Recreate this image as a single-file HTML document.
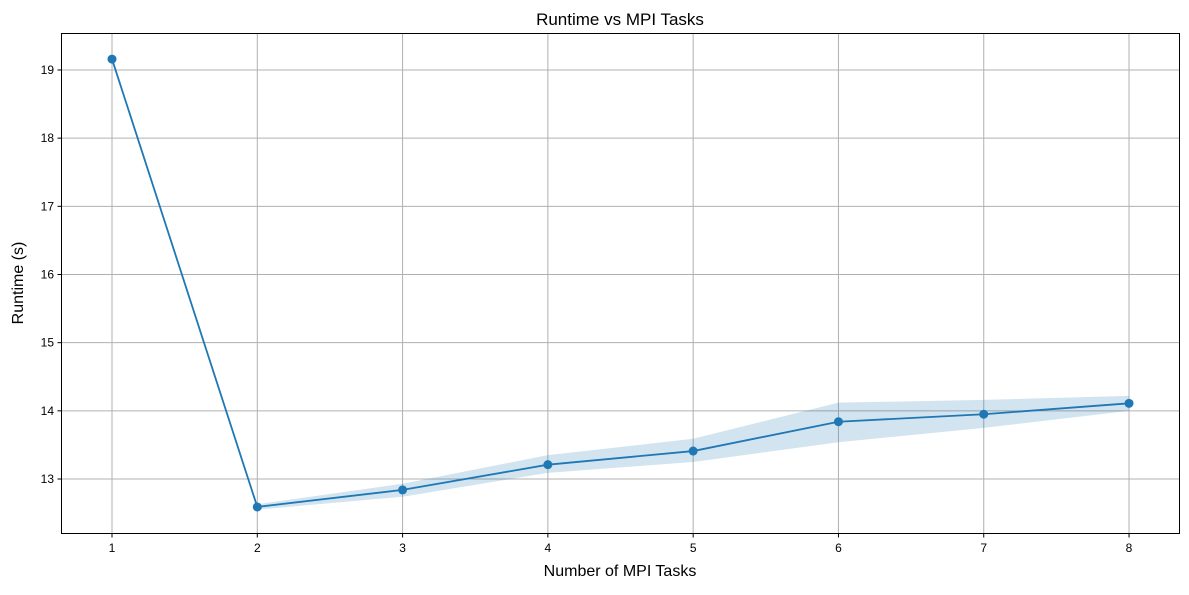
<!DOCTYPE html>
<html><head><meta charset="utf-8"><style>
body{margin:0;background:#fff;font-family:"Liberation Sans","DejaVu Sans",sans-serif;}
</style></head><body>
<svg id="chart" width="1189" height="590" xmlns="http://www.w3.org/2000/svg">
<rect width="1189" height="590" fill="#fff"/>
<g id="grid"></g>
<g id="band"></g>
<g id="series"></g>
<rect x="61.5" y="33.5" width="1118" height="500" fill="none" stroke="#000" stroke-width="1"/>
<g id="ticks"></g>
<text x="620" y="25" text-anchor="middle" font-size="17">Runtime vs MPI Tasks</text>
<text x="620" y="576" text-anchor="middle" font-size="16">Number of MPI Tasks</text>
<text transform="translate(23,283) rotate(-90)" text-anchor="middle" font-size="16">Runtime (s)</text>
</svg>
<script>
const tasks=[1,2,3,4,5,6,7,8];
const runtime=[19.16,12.59,12.84,13.21,13.41,13.84,13.95,14.11];
const upper=[19.17,12.63,12.93,13.35,13.59,14.12,14.16,14.22];
const lower=[19.15,12.55,12.74,13.09,13.25,13.54,13.75,14.0];
const yTicks=[13,14,15,16,17,18,19];
const NS="http://www.w3.org/2000/svg";
const x=v=>112+(v-1)*145.29;
const y=v=>479-(v-13)*68.17;
const g=id=>document.getElementById(id);
function mk(t,a,p){const e=document.createElementNS(NS,t);for(const k in a)e.setAttribute(k,a[k]);p.appendChild(e);return e;}
tasks.forEach(t=>{
  const l=mk('line',{x1:x(t),x2:x(t),y1:33.5,y2:533.5,stroke:'#b0b0b0','stroke-width':1},g('grid'));
  
  
  const tk=mk('line',{x1:x(t),x2:x(t),y1:533.5,y2:537.5,stroke:'#000'},g('ticks'));
  
  
  const tx=mk('text',{x:x(t),y:552,'text-anchor':'middle','font-size':12},g('ticks'));
  tx.textContent=t;
  
  
});
yTicks.forEach(v=>{
  const l=mk('line',{x1:61.5,x2:1179.5,y1:y(v),y2:y(v),stroke:'#b0b0b0','stroke-width':1},g('grid'));
  
  
  const tk=mk('line',{x1:57.5,x2:61.5,y1:y(v),y2:y(v),stroke:'#000'},g('ticks'));
  
  
  const tx=mk('text',{x:54,y:y(v)+4,'text-anchor':'end','font-size':12},g('ticks'));
  tx.textContent=v;
  
  
});
let pts=tasks.map((t,i)=>x(t)+','+y(upper[i]));
for(let i=tasks.length-1;i>=0;i--)pts.push(x(tasks[i])+','+y(lower[i]));
const band=mk('polygon',{points:pts.join(' '),fill:'#1f77b4','fill-opacity':0.2},g('band'));


const line=mk('polyline',{points:tasks.map((t,i)=>x(t)+','+y(runtime[i])).join(' '),fill:'none',stroke:'#1f77b4','stroke-width':1.8},g('series'));


tasks.forEach((t,i)=>{
  const c=mk('circle',{cx:x(t),cy:y(runtime[i]),r:4.5,fill:'#1f77b4'},g('series'));
  
  
});
</script>
</body></html>
